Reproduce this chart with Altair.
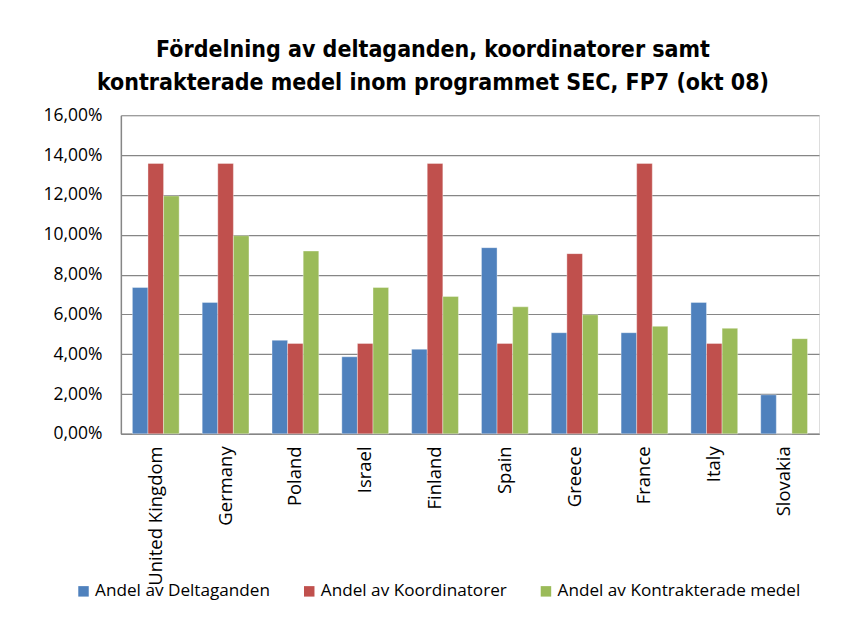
import altair as alt
import pandas as pd

countries = ["United Kingdom", "Germany", "Poland", "Israel", "Finland",
             "Spain", "Greece", "France", "Italy", "Slovakia"]
series = ["Andel av Deltaganden", "Andel av Koordinatorer", "Andel av Kontrakterade medel"]
deltaganden = [7.35, 6.60, 4.70, 3.87, 4.25, 9.35, 5.08, 5.08, 6.60, 1.96]
koordinatorer = [13.58, 13.58, 4.54, 4.54, 13.58, 4.54, 9.05, 13.58, 4.54, 0.0]
kontrakterade = [11.95, 9.95, 9.18, 7.35, 6.90, 6.38, 5.98, 5.40, 5.30, 4.78]
colors = ["#4F81BD", "#C0504D", "#9BBB59"]

rows = []
for s, vals in zip(series, [deltaganden, koordinatorer, kontrakterade]):
    for c, v in zip(countries, vals):
        rows.append({"country": c, "series": s, "value": v / 100.0})
df = pd.DataFrame(rows)

TFONT = "DejaVu Sans Condensed, Liberation Sans Narrow, Liberation Sans"
FONT = "Open Sans"

bars = alt.Chart(df).mark_bar(stroke="white", strokeWidth=0.6, strokeOpacity=0.6).encode(
    x=alt.X("country:N", sort=countries, title=None,
            scale=alt.Scale(paddingInner=0.33, paddingOuter=0.165),
            axis=alt.Axis(labelAngle=270, labelAlign="right", labelBaseline="middle",
                          labelPadding=12, ticks=False, labelFontSize=18.5,
                          labelFont=FONT, labelColor="#000000", labelLimit=0,
                          domainColor="#868686", domainWidth=1.5)),
    xOffset=alt.XOffset("series:N", sort=series),
    y=alt.Y("value:Q", title=None,
            scale=alt.Scale(domain=[0, 0.16]),
            axis=alt.Axis(values=[i / 100 for i in range(0, 17, 2)],
                          labelExpr="replace(format(datum.value, '.2%'), '.', ',')",
                          ticks=False, labelPadding=19, labelFontSize=17.5,
                          labelFont=FONT, labelColor="#000000",
                          gridColor="#868686", gridWidth=1.2,
                          domainColor="#868686", domainWidth=1.5)),
    color=alt.Color("series:N", sort=series,
                    scale=alt.Scale(domain=series, range=colors),
                    legend=alt.Legend(title=None, orient="none", direction="horizontal",
                                      legendX=-46, legendY=468,
                                      symbolType="square", symbolSize=110,
                                      symbolStrokeWidth=0, labelFontSize=17.2,
                                      labelFont=FONT, labelColor="#000000", labelLimit=0,
                                      columnPadding=30, labelOffset=3)),
)

chart = bars.properties(
    width=699, height=319,
    padding={"left": 113, "top": 107, "right": 20, "bottom": 175},
    autosize=alt.AutoSizeParams(type="none"),
    title=alt.TitleParams(
        text=["Fördelning av deltaganden, koordinatorer samt",
              "kontrakterade medel inom programmet SEC, FP7 (okt 08)"],
        anchor="middle", dx=-37, offset=11, fontSize=23, font=TFONT,
        fontWeight="bold", color="#000000", lineHeight=33),
).configure_view(stroke=None).configure(background="white")

chart.save("out.html", embed_options={"renderer": "svg", "actions": False})
